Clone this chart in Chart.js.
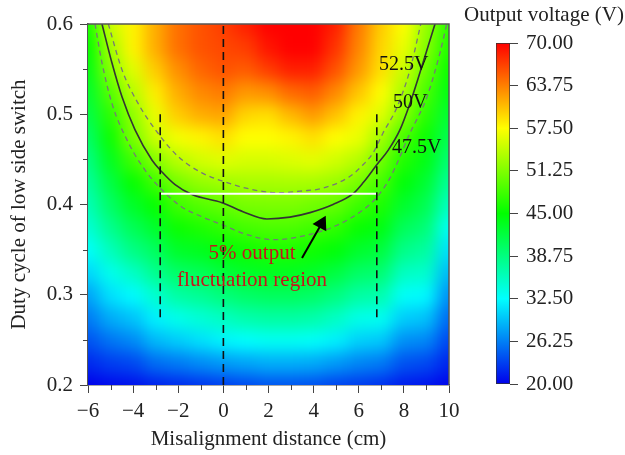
<!DOCTYPE html>
<html>
<head>
  <meta charset="UTF-8">
  <title>Output voltage map</title>
  <script src="https://cdn.jsdelivr.net/npm/chart.js"></script>
  <style>
    html, body { margin: 0; padding: 0; background: #fff; }
    #wrap { position: relative; width: 625px; height: 455px; }
    #wrap canvas { position: absolute; left: 0; top: 0; }
  </style>
</head>
<body>
  <div id="wrap">
    <canvas id="mapChart" width="625" height="455"></canvas>
    <canvas id="barChart" width="625" height="455"></canvas>
  </div>

  <script>
    // grid of the map: misalignment distance (cm) and duty cycle
    const distances = [-6, -5, -4, -3, -2, -1, 0, 1, 2, 3, 4, 5, 6, 7, 8, 9, 10];
    const dutyCycles = [0.2, 0.225, 0.25, 0.275, 0.3, 0.325, 0.35, 0.375, 0.4,
                        0.425, 0.45, 0.475, 0.5, 0.525, 0.55, 0.575, 0.6];
    // output voltage (V), one row per duty cycle, bottom row first
    const voltage = [
      [20, 20.5, 20.8, 21.5, 22, 22.5, 23, 23.5, 24, 24, 23.8, 23.2, 22.8, 22.3, 21.3, 21, 20.2],
      [22, 23, 23.5, 25.3, 26, 26.8, 27.5, 28, 28.5, 28.5, 28.3, 27.5, 26.5, 26, 24, 23.6, 21.8],
      [24, 25.7, 26.7, 29, 30, 31, 32, 32.5, 33, 33, 32.7, 31.8, 30.2, 29.8, 27, 26.6, 23.5],
      [26, 28.4, 29.5, 31.8, 33.5, 34.5, 35.5, 36.5, 37, 37, 36.6, 35.4, 33.6, 33.2, 30, 29.5, 25.2],
      [28, 31, 32.3, 34.8, 37, 37.8, 39, 40, 40.5, 40.5, 40, 38.8, 37, 36.5, 32.8, 32.3, 27],
      [30.5, 33.4, 35.3, 38, 40, 40.8, 42, 43, 43.5, 43.5, 43, 41.8, 40, 39.5, 35.5, 35, 29],
      [32.7, 35.8, 38.5, 40.4, 43, 43.6, 44.7, 45.6, 46.3, 46.3, 45.7, 44.6, 42.8, 42, 38.3, 37.2, 31],
      [34.5, 38, 40.8, 42.8, 45.5, 46.3, 47.3, 48.3, 48.7, 48.7, 48.1, 47.2, 45.3, 44.2, 40.6, 39.2, 33],
      [36, 40, 43, 45.2, 48, 49.1, 49.8, 50.8, 51, 51, 50.5, 49.8, 47.9, 46.3, 42.8, 41, 35.5],
      [37.3, 41.6, 45.2, 48, 50.8, 52.2, 52.8, 53.2, 53.2, 53.3, 53.2, 52.5, 50.8, 48.3, 44.6, 42.5, 37.5],
      [38.6, 43.5, 48, 51.5, 54, 55.3, 56, 55.5, 55.5, 55.8, 56.2, 55.2, 53.8, 50.5, 46.5, 44, 39.3],
      [40, 45.5, 51, 55, 57, 58, 59, 57.5, 57.5, 58, 59, 57.5, 56.5, 53, 48.5, 45.5, 41],
      [41.5, 47, 52, 56.5, 60, 61.5, 62, 59.5, 59, 61, 62.5, 60.5, 58, 56, 51.5, 47, 42.5],
      [42.8, 49, 54, 58.3, 61.5, 63.3, 64, 62.5, 63, 64.8, 65.5, 63.3, 60.3, 57.5, 53.3, 48.5, 44],
      [44, 51.5, 56, 60, 63, 65, 66, 65.5, 67, 68.5, 68.5, 66, 62.5, 59, 55, 50, 45.5],
      [45, 53, 58, 61.5, 64.5, 66, 66.5, 67, 69, 70, 70, 67.5, 63.5, 59.5, 56.5, 51.5, 46.5],
      [46, 55, 58, 61.5, 64.5, 66, 67, 68.5, 70, 70, 70, 68.5, 64, 60, 57.5, 52.5, 47]
    ];

    // contour lines [x, duty]
    const contour50 = [[-5.38, 0.6], [-4.94, 0.557], [-4.49, 0.519], [-3.92, 0.483], [-3.16, 0.449],
      [-2.72, 0.436], [-2.14, 0.422], [-1.39, 0.411], [-0.06, 0.402], [0.87, 0.392], [1.93, 0.384],
      [2.95, 0.386], [3.84, 0.391], [4.86, 0.4], [5.75, 0.412], [6.19, 0.424], [6.8, 0.444],
      [7.3, 0.46], [7.83, 0.483], [8.27, 0.512], [8.71, 0.546], [9.38, 0.6]];
    const contour525 = [[-5.1, 0.6], [-4.49, 0.549], [-3.78, 0.512], [-2.9, 0.479], [-2.0, 0.453],
      [-0.95, 0.435], [0.2, 0.424], [1.2, 0.417], [2.4, 0.413], [3.5, 0.415], [4.4, 0.418],
      [5.6, 0.431], [6.19, 0.444], [6.63, 0.457], [7.07, 0.479], [7.7, 0.508], [8.27, 0.549], [8.75, 0.6]];
    const contour475 = [[-5.69, 0.6], [-5.38, 0.557], [-4.94, 0.512], [-4.2, 0.468], [-3.47, 0.438],
      [-2.72, 0.416], [-1.83, 0.397], [-1.0, 0.387], [0, 0.377], [1.0, 0.367], [2.2, 0.361],
      [3.7, 0.366], [5.04, 0.377], [6.19, 0.394], [6.8, 0.408], [7.4, 0.43], [8.27, 0.479],
      [9.02, 0.519], [9.6, 0.568], [9.9, 0.6]];

    // guide lines and arrow
    const centerLine = [[0, 0.2], [0, 0.6]];
    const leftLimit = [[-2.8, 0.275], [-2.8, 0.5]];
    const rightLimit = [[6.8, 0.275], [6.8, 0.5]];
    const regionLine = [[-2.8, 0.412], [6.8, 0.412]];
    const arrowLine = [[3.485, 0.3407], [4.35, 0.3788]];

    const contourNames = ['52.5V', '50V', '47.5V'];
    const contourNameX = [6.9, 7.52, 7.47];
    const contourNameY = [0.5546, 0.5125, 0.4626];
    const noteLines = ['5% output', 'fluctuation region'];
    const noteX = [1.27, 1.27];
    const noteY = [0.3457, 0.3158];

    const xMinorTicks = [-5, -3, -1, 1, 3, 5, 7, 9];
    const yMinorTicks = [0.25, 0.35, 0.45, 0.55];

    // colour scale
    const colorStops = [20, 32.5, 45, 57.5, 70];
    const stopColors = [[0, 0, 235], [0, 255, 255], [0, 255, 0], [255, 255, 0], [255, 0, 0]];

    function voltColor(v) {
      if (v <= colorStops[0]) return `rgb(${stopColors[0].join(',')})`;
      for (let k = 1; k < colorStops.length; k++) {
        if (v <= colorStops[k]) {
          const t = (v - colorStops[k - 1]) / (colorStops[k] - colorStops[k - 1]);
          const a = stopColors[k - 1], b = stopColors[k];
          const c = a.map((n, i) => Math.round(n + (b[i] - n) * t));
          return `rgb(${c.join(',')})`;
        }
      }
      return `rgb(${stopColors[stopColors.length - 1].join(',')})`;
    }

    Chart.defaults.font.family = "'Liberation Serif', 'Times New Roman', serif";
    Chart.defaults.font.size = 21;
    Chart.defaults.color = '#222';

    const heatmap = {
      id: 'heatmap',
      beforeDatasetsDraw(chart) {
        const { ctx, chartArea: area, scales: { x, y } } = chart;
        const m = 100;
        const off = document.createElement('canvas');
        off.width = chart.width + 2 * m;
        off.height = chart.height + 2 * m;
        const oc = off.getContext('2d');
        oc.translate(m, m);
        const hx = (distances[1] - distances[0]) / 2;
        const hy = (dutyCycles[1] - dutyCycles[0]) / 2;
        for (let i = 0; i < dutyCycles.length; i++) {
          for (let j = 0; j < distances.length; j++) {
            let x0 = x.getPixelForValue(distances[j] - hx);
            let x1 = x.getPixelForValue(distances[j] + hx);
            let y0 = y.getPixelForValue(dutyCycles[i] - hy);
            let y1 = y.getPixelForValue(dutyCycles[i] + hy);
            if (j === 0) x0 -= 60;
            if (j === distances.length - 1) x1 += 60;
            if (i === 0) y0 += 60;
            if (i === dutyCycles.length - 1) y1 -= 60;
            oc.fillStyle = voltColor(voltage[i][j]);
            oc.fillRect(Math.floor(x0), Math.floor(y1), Math.ceil(x1 - x0) + 1, Math.ceil(y0 - y1) + 1);
          }
        }
        ctx.save();
        ctx.beginPath();
        ctx.rect(area.left, area.top, area.right - area.left, area.bottom - area.top);
        ctx.clip();
        ctx.filter = 'blur(8px)';
        ctx.drawImage(off, -m, -m);
        ctx.restore();
      },
      afterDatasetsDraw(chart) {
        const { ctx, scales: { x, y } } = chart;
        ctx.save();
        ctx.textBaseline = 'middle';
        ctx.font = "20px 'Liberation Serif', serif";
        ctx.fillStyle = '#111';
        ctx.textAlign = 'left';
        contourNames.forEach((t, i) => {
          ctx.fillText(t, x.getPixelForValue(contourNameX[i]), y.getPixelForValue(contourNameY[i]));
        });
        ctx.font = "21px 'Liberation Serif', serif";
        ctx.fillStyle = '#c4161c';
        ctx.textAlign = 'center';
        noteLines.forEach((t, i) => {
          ctx.fillText(t, x.getPixelForValue(noteX[i]), y.getPixelForValue(noteY[i]));
        });
        ctx.restore();
      },
      afterDraw(chart) {
        const { ctx, chartArea: a, scales: { x, y } } = chart;
        ctx.save();
        ctx.strokeStyle = '#555';
        ctx.lineWidth = 1.5;
        ctx.beginPath();
        ctx.moveTo(a.left, a.top); ctx.lineTo(a.right, a.top); ctx.lineTo(a.right, a.bottom);
        ctx.stroke();
        ctx.lineWidth = 1;
        ctx.strokeStyle = '#444';
        ctx.beginPath();
        xMinorTicks.forEach(v => {
          const px = Math.round(x.getPixelForValue(v)) + 0.5;
          ctx.moveTo(px, a.bottom); ctx.lineTo(px, a.bottom + 5);
        });
        yMinorTicks.forEach(v => {
          const py = Math.round(y.getPixelForValue(v)) + 0.5;
          ctx.moveTo(a.left - 5, py); ctx.lineTo(a.left, py);
        });
        ctx.stroke();
        ctx.restore();
      }
    };

    function line(pts, color, width, dash, smooth) {
      return {
        data: pts.map(p => ({ x: p[0], y: p[1] })),
        showLine: true,
        borderColor: color,
        backgroundColor: color,
        borderWidth: width,
        borderDash: dash,
        pointRadius: 0,
        fill: false,
        cubicInterpolationMode: smooth ? 'monotone' : 'default'
      };
    }

    const arrow = line(arrowLine, '#000', 2, [], false);
    arrow.pointRadius = [0, 7];
    arrow.pointStyle = 'triangle';
    arrow.rotation = 28;
    arrow.pointBackgroundColor = '#000';
    arrow.pointBorderColor = '#000';

    new Chart(document.getElementById('mapChart'), {
      type: 'scatter',
      data: {
        datasets: [
          line(centerLine, '#111', 1.6, [8, 5], false),
          line(leftLimit, '#111', 1.6, [8, 5], false),
          line(rightLimit, '#111', 1.6, [8, 5], false),
          arrow,
          line(regionLine, '#ffffff', 2, [], false),
          line(contour50, '#333', 1.6, [], true),
          line(contour525, '#777', 1.3, [5, 4], true),
          line(contour475, '#777', 1.3, [5, 4], true)
        ]
      },
      options: {
        responsive: false,
        animation: false,
        layout: { padding: { top: 24, right: 176, left: 0, bottom: 0 } },
        plugins: { legend: { display: false }, tooltip: { enabled: false } },
        scales: {
          x: {
            type: 'linear', min: -6, max: 10,
            afterFit: s => { s.height = 70; },
            ticks: {
              stepSize: 2, padding: 6, color: '#222',
              callback: v => (v < 0 ? '\u2212' + Math.abs(v) : String(v))
            },
            grid: { drawOnChartArea: false, tickLength: 8, tickColor: '#444', tickWidth: 1 },
            border: { color: '#555', width: 1.5 },
            title: { display: true, text: 'Misalignment distance (cm)', color: '#222', padding: { top: 0, bottom: 3 } }
          },
          y: {
            type: 'linear', min: 0.2, max: 0.6,
            afterFit: s => { s.width = 88; },
            ticks: { stepSize: 0.1, padding: 7, color: '#222', callback: v => v.toFixed(1) },
            grid: { drawOnChartArea: false, tickLength: 8, tickColor: '#444', tickWidth: 1 },
            border: { color: '#555', width: 1.5 },
            title: { display: true, text: 'Duty cycle of low side switch', color: '#222', padding: { top: 7, bottom: 0 } }
          }
        }
      },
      plugins: [heatmap]
    });

    // colour bar
    const barRange = [[20, 70]];
    const colorBar = {
      id: 'colorBar',
      afterDraw(chart) {
        const { ctx, chartArea: a } = chart;
        ctx.save();
        ctx.font = "21px 'Liberation Serif', serif";
        ctx.fillStyle = '#222';
        ctx.textAlign = 'center';
        ctx.textBaseline = 'middle';
        ctx.fillText('Output voltage (V)', (a.left + a.right) / 2 + 41, a.top - 28);
        ctx.restore();
      }
    };

    new Chart(document.getElementById('barChart'), {
      type: 'bar',
      data: {
        labels: [''],
        datasets: [{
          data: barRange,
          barPercentage: 1,
          categoryPercentage: 1,
          borderWidth: 1,
          borderColor: '#333',
          borderSkipped: false,
          backgroundColor: (c) => {
            const chart = c.chart;
            const ys = chart.scales.y;
            if (!chart.chartArea || !ys) return voltColor(45);
            const g = chart.ctx.createLinearGradient(0, ys.getPixelForValue(colorStops[0]), 0,
              ys.getPixelForValue(colorStops[colorStops.length - 1]));
            colorStops.forEach((v, k) => {
              g.addColorStop((v - colorStops[0]) / (colorStops[colorStops.length - 1] - colorStops[0]),
                `rgb(${stopColors[k].join(',')})`);
            });
            return g;
          }
        }]
      },
      options: {
        responsive: false,
        animation: false,
        layout: { padding: { top: 43, right: 0, left: 496, bottom: 71 } },
        plugins: { legend: { display: false }, tooltip: { enabled: false } },
        scales: {
          x: { display: false },
          y: {
            position: 'right', min: 20, max: 70,
            afterFit: s => { s.width = 115; },
            ticks: { stepSize: 6.25, padding: 8, color: '#222', callback: v => v.toFixed(2) },
            grid: { drawOnChartArea: false, tickLength: 8, tickColor: '#444' },
            border: { display: false }
          }
        }
      },
      plugins: [colorBar]
    });
  </script>
</body>
</html>
